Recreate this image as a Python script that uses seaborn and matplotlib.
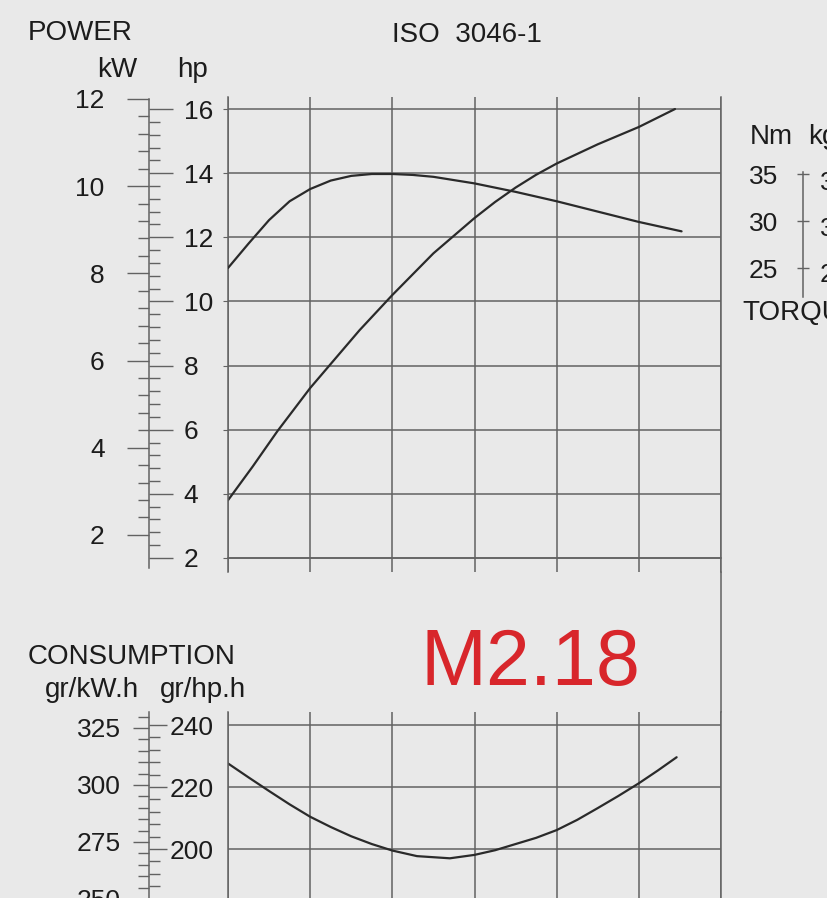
import numpy as np
import matplotlib.pyplot as plt
from matplotlib.lines import Line2D
from matplotlib.ticker import FixedLocator, FormatStrFormatter
import seaborn as sns

# engine speed (rpm) and curves
rpm_power = [1000, 1150, 1300, 1500, 1650, 1800, 2000, 2125, 2250, 2375, 2500,
             2625, 2750, 2875, 3000, 3125, 3250, 3375, 3500, 3720]
power_hp = [3.8, 4.85, 5.95, 7.3, 8.2, 9.1, 10.2, 10.85, 11.5, 12.05, 12.6,
            13.1, 13.55, 13.95, 14.3, 14.6, 14.9, 15.17, 15.44, 16.0]

rpm_torque = [1000, 1125, 1250, 1375, 1500, 1625, 1750, 1875, 2000, 2125, 2250,
              2500, 2750, 3000, 3250, 3500, 3760]
torque_nm = [25.0, 27.6, 30.1, 32.1, 33.4, 34.3, 34.8, 35.0, 35.0, 34.9, 34.7,
             34.0, 33.1, 32.1, 31.0, 29.9, 28.9]

rpm_cons = [1000, 1125, 1250, 1375, 1500, 1625, 1750, 1875, 2000, 2150, 2350,
            2500, 2625, 2750, 2875, 3000, 3125, 3250, 3375, 3500, 3615, 3730]
cons_ghph = [227.6, 223.1, 218.7, 214.4, 210.4, 207.1, 204.1, 201.6, 199.5, 197.7, 197.0,
             198.1, 199.6, 201.6, 203.6, 206.1, 209.4, 213.2, 217.1, 221.2, 225.3, 229.6]

rpm_ticks = [1000, 1500, 2000, 2500, 3000, 3500, 4000]
hp_ticks = [2, 4, 6, 8, 10, 12, 14, 16]
kw_ticks = [2, 4, 6, 8, 10, 12]
nm_ticks = [25, 30, 35]
kgm_ticks = [2.5, 3.0, 3.5]
ghph_ticks = [180, 200, 220, 240]
gkwh_ticks = [250, 275, 300, 325]

KW_PER_HP = 0.7355      # metric hp
NM_PER_KGM = 9.80665

W, H = 827, 898
BG = "#e9e9e9"
GRID = "#626262"
INK = "#1c1c1c"
CURVE = "#2a2a2a"

sns.set_style("white", rc={"axes.facecolor": BG, "figure.facecolor": BG})
plt.rcParams["font.family"] = ["Liberation Sans", "DejaVu Sans"]
plt.rcParams["text.color"] = INK
plt.rcParams["xtick.color"] = GRID
plt.rcParams["ytick.color"] = GRID
plt.rcParams["xtick.labelcolor"] = INK
plt.rcParams["ytick.labelcolor"] = INK

FS = 19


def box(x0, y0, x1, y1):
    # pixel box -> figure fraction [left, bottom, width, height]
    return [x0 / W, 1 - y1 / H, (x1 - x0) / W, (y1 - y0) / H]


def ftext(x, y, s, **kw):
    fig.text(x / W, 1 - y / H, s, va="center", fontsize=kw.pop("fontsize", 20), **kw)


fig = plt.figure(figsize=(W / 100, H / 100), dpi=100)

# ---------------- power / torque panel ----------------
ax = fig.add_axes(box(228, 97, 721, 572))
hp_lim = (2 - 14 / 32, 16 + 12 / 32)
ax.set_xlim(1000, 4000)
ax.set_ylim(*hp_lim)
ax.xaxis.set_major_locator(FixedLocator(rpm_ticks))
ax.xaxis.set_minor_locator(FixedLocator(np.arange(1000, 4001, 100)))
ax.yaxis.set_major_locator(FixedLocator(hp_ticks))
ax.grid(True, which="major", color=GRID, lw=1.1)
ax.spines["top"].set_visible(False)
for s in ["left", "right", "bottom"]:
    ax.spines[s].set_color(GRID)
    ax.spines[s].set_linewidth(1.1)
ax.spines["bottom"].set_position(("data", 2))
ax.tick_params(axis="y", left=False, labelleft=False)
ax.tick_params(axis="x", which="major", length=0, labelbottom=False)
ax.tick_params(axis="x", which="minor", direction="out", length=4.5, width=1.0, color=GRID)

sns.lineplot(x=rpm_power, y=power_hp, ax=ax, color=CURVE, linewidth=1.6)
ax.set_xlabel("")
ax.set_ylabel("")

# hp scale (right side of the scale spine)
scale_x = (149 - 228) / 493
hp_ax = ax.twinx()
hp_ax.set_ylim(*hp_lim)
for s in ["top", "bottom", "left"]:
    hp_ax.spines[s].set_visible(False)
hp_ax.spines["right"].set_position(("axes", scale_x))
hp_ax.spines["right"].set_color(GRID)
hp_ax.spines["right"].set_linewidth(1.1)
hp_ax.spines["right"].set_bounds(1.69, 12 / KW_PER_HP)
hp_ax.yaxis.set_major_locator(FixedLocator(hp_ticks))
hp_ax.yaxis.set_minor_locator(FixedLocator(np.arange(2, 16.01, 0.4)))
hp_ax.yaxis.set_major_formatter(FormatStrFormatter("%d"))
hp_ax.tick_params(axis="y", which="major", direction="out", length=17, width=1.0, pad=8, labelsize=FS)
hp_ax.tick_params(axis="y", which="minor", direction="out", length=8, width=1.0)

# kW scale (left side of the scale spine)
kw_ax = ax.twinx()
kw_ax.set_ylim(hp_lim[0] * KW_PER_HP, hp_lim[1] * KW_PER_HP)
for s in ["top", "bottom", "right", "left"]:
    kw_ax.spines[s].set_visible(False)
kw_ax.yaxis.tick_left()
kw_ax.spines["left"].set_position(("axes", scale_x))
kw_ax.yaxis.set_major_locator(FixedLocator(kw_ticks))
kw_ax.yaxis.set_minor_locator(FixedLocator(np.arange(2, 12.01, 0.4)))
kw_ax.yaxis.set_major_formatter(FormatStrFormatter("%d"))
kw_ax.tick_params(axis="y", which="major", direction="out", length=16, width=1.0, pad=16, labelsize=FS)
kw_ax.tick_params(axis="y", which="minor", direction="out", length=8, width=1.0)

# torque scale, to the right of the grid
tq_x = (803 - 228) / 493
tq_lim = (35 - 398 / 9.4, 35 + 77 / 9.4)
tq = ax.twinx()
tq.set_ylim(*tq_lim)
for s in ["top", "bottom", "right"]:
    tq.spines[s].set_visible(False)
tq.yaxis.tick_left()
tq.spines["left"].set_visible(True)
tq.spines["left"].set_position(("axes", tq_x))
tq.spines["left"].set_color(GRID)
tq.spines["left"].set_linewidth(1.1)
tq.spines["left"].set_bounds(21.9, 35.2)
tq.yaxis.set_major_locator(FixedLocator(nm_ticks))
tq.yaxis.set_major_formatter(FormatStrFormatter("%d"))
tq.tick_params(axis="y", direction="inout", length=8, width=1.0, pad=14, labelsize=FS)
sns.lineplot(x=rpm_torque, y=torque_nm, ax=tq, color=CURVE, linewidth=1.6)
tq.set_xlabel("")
tq.set_ylabel("")

kg = ax.twinx()
kg.set_ylim(tq_lim[0] / NM_PER_KGM, tq_lim[1] / NM_PER_KGM)
for s in ["top", "bottom", "left", "right"]:
    kg.spines[s].set_visible(False)
kg.spines["right"].set_position(("axes", tq_x))
kg.yaxis.set_major_locator(FixedLocator(kgm_ticks))
kg.yaxis.set_major_formatter(FormatStrFormatter("%.1f"))
kg.tick_params(axis="y", length=0, pad=12, labelsize=FS)

# ---------------- consumption panel ----------------
bx = fig.add_axes(box(228, 712, 721, 960))
c_lim = (240 - 235 / 3.1, 240 + 13 / 3.1)
bx.set_xlim(1000, 4000)
bx.set_ylim(*c_lim)
bx.xaxis.set_major_locator(FixedLocator(rpm_ticks))
bx.yaxis.set_major_locator(FixedLocator(ghph_ticks))
bx.grid(True, which="major", color=GRID, lw=1.1)
bx.spines["top"].set_visible(False)
for s in ["left", "right", "bottom"]:
    bx.spines[s].set_color(GRID)
    bx.spines[s].set_linewidth(1.1)
bx.tick_params(axis="both", length=0, labelleft=False, labelbottom=False)
sns.lineplot(x=rpm_cons, y=cons_ghph, ax=bx, color=CURVE, linewidth=1.6)
bx.set_xlabel("")
bx.set_ylabel("")

gh_ax = bx.twinx()
gh_ax.set_ylim(*c_lim)
for s in ["top", "bottom", "left"]:
    gh_ax.spines[s].set_visible(False)
gh_ax.spines["right"].set_position(("axes", scale_x))
gh_ax.spines["right"].set_color(GRID)
gh_ax.spines["right"].set_linewidth(1.1)
gh_ax.yaxis.set_major_locator(FixedLocator(ghph_ticks))
gh_ax.yaxis.set_minor_locator(FixedLocator(np.arange(160, 244, 4)))
gh_ax.yaxis.set_major_formatter(FormatStrFormatter("%d"))
gh_ax.tick_params(axis="y", which="major", direction="out", length=13, width=1.0, pad=2, labelsize=FS)
gh_ax.tick_params(axis="y", which="minor", direction="out", length=8, width=1.0)

gk_ax = bx.twinx()
gk_ax.set_ylim(c_lim[0] / KW_PER_HP, c_lim[1] / KW_PER_HP)
for s in ["top", "bottom", "left", "right"]:
    gk_ax.spines[s].set_visible(False)
gk_ax.yaxis.tick_left()
gk_ax.spines["left"].set_position(("axes", scale_x))
gk_ax.yaxis.set_major_locator(FixedLocator(gkwh_ticks))
gk_ax.yaxis.set_minor_locator(FixedLocator(np.arange(225, 331, 5)))
gk_ax.yaxis.set_major_formatter(FormatStrFormatter("%d"))
gk_ax.tick_params(axis="y", which="major", direction="out", length=11.5, width=1.0, pad=9, labelsize=FS)
gk_ax.tick_params(axis="y", which="minor", direction="out", length=8, width=1.0)

# right border runs on between the two panels
p_top, p_bot = ax.get_position(), bx.get_position()
fig.add_artist(Line2D([p_top.x1, p_top.x1], [p_top.y0, p_bot.y1],
                      transform=fig.transFigure, color=GRID, lw=1.1))

# ---------------- titles and units ----------------
ftext(28, 33, "POWER")
ftext(137, 70, "kW", ha="right")
ftext(177, 70, "hp")
ftext(392, 35, "ISO  3046-1")
ftext(750, 137, "Nm")
ftext(808, 137, "kgm")
ftext(742, 313, "TORQUE")
ftext(28, 657, "CONSUMPTION")
ftext(45, 690, "gr/kW.h")
ftext(160, 690, "gr/hp.h")
ftext(421, 664, "M2.18", fontsize=57, color="#d8262b")

fig.savefig("out.png", dpi=100, facecolor=BG)
